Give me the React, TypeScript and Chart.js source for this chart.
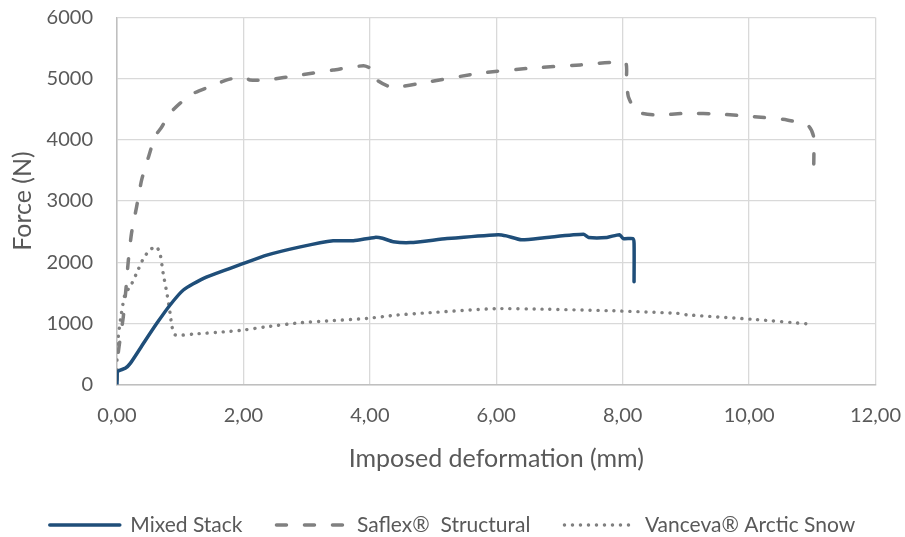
import React, { useEffect, useRef } from "react";
import { Chart, registerables } from "chart.js";

Chart.register(...registerables);

// Mixed Stack (solid blue)
const mixedX = [0, 0.005, 0.13, 0.21, 0.42, 0.63, 0.84, 1.05, 1.37, 1.79, 2.0, 2.37, 2.9, 3.42, 3.74, 4.08, 4.2, 4.37, 4.64, 5.22, 6.03, 6.16, 6.4, 6.8, 7.38, 7.46, 7.75, 7.95, 8.01, 8.16, 8.18, 8.18];
const mixedY = [0, 210, 265, 345, 675, 1000, 1300, 1545, 1735, 1900, 1980, 2115, 2250, 2350, 2350, 2405, 2390, 2335, 2320, 2385, 2450, 2430, 2365, 2405, 2455, 2405, 2405, 2450, 2385, 2385, 2310, 1680];

// Saflex Structural (dashed grey)
const saflexX = [0, 0.02, 0.10, 0.14, 0.18, 0.23, 0.31, 0.39, 0.50, 0.60, 0.71, 0.84, 1.0, 1.21, 1.47, 1.74, 2.0, 2.1, 2.37, 2.9, 3.42, 3.9, 4.06, 4.11, 4.35, 4.95, 5.74, 6.53, 7.33, 8.04, 8.06, 8.09, 8.22, 8.54, 9.01, 9.54, 10.07, 10.6, 10.94, 11.02, 11.02];
const saflexY = [74, 515, 1110, 1545, 2035, 2475, 2905, 3345, 3725, 4050, 4215, 4435, 4600, 4760, 4870, 4980, 5030, 4980, 4980, 5060, 5140, 5210, 5140, 4980, 4860, 4950, 5090, 5170, 5225, 5260, 4980, 4705, 4460, 4405, 4435, 4420, 4380, 4325, 4225, 4050, 3400];

// Vanceva Arctic Snow (dotted grey)
const vancevaX = [0, 0.02, 0.07, 0.13, 0.21, 0.31, 0.42, 0.52, 0.62, 0.68, 0.73, 0.79, 0.84, 0.87, 0.92, 1.21, 1.74, 2.0, 2.37, 2.9, 3.42, 3.95, 4.42, 4.95, 5.98, 6.8, 7.85, 8.85, 9.01, 10.07, 10.94];
const vancevaY = [400, 780, 1165, 1490, 1600, 1820, 2065, 2200, 2255, 2145, 1820, 1490, 1165, 945, 810, 825, 865, 890, 945, 1010, 1045, 1080, 1135, 1175, 1240, 1230, 1205, 1165, 1140, 1065, 990];

const seriesNames = ["Mixed Stack", "Saflex®  Structural", "Vanceva® Arctic Snow"];
const xTicks = [0, 2, 4, 6, 8, 10, 12];
const yTicks = [0, 1000, 2000, 3000, 4000, 5000, 6000];

const toPoints = (xs: number[], ys: number[]) => xs.map((x, i) => ({ x, y: ys[i] }));

const FONT = "Lato, 'Noto Sans', sans-serif";
const TXT = "#595959";

export default function App() {
  const ref = useRef<HTMLCanvasElement | null>(null);
  useEffect(() => {
    if (!ref.current) return;
    const chart = new Chart(ref.current, {
      type: "line",
      data: {
        datasets: [
          {
            label: seriesNames[0],
            data: toPoints(mixedX, mixedY),
            borderColor: "#1F4E79",
            backgroundColor: "#1F4E79",
            borderWidth: 3.5,
            pointRadius: 0,
            tension: 0.2,
            borderCapStyle: "round",
            borderJoinStyle: "round",
          },
          {
            label: seriesNames[1],
            data: toPoints(saflexX, saflexY),
            borderColor: "#808080",
            backgroundColor: "#808080",
            borderWidth: 3.5,
            borderDash: [10, 18],
            borderCapStyle: "round",
            pointRadius: 0,
            tension: 0.2,
          },
          {
            label: seriesNames[2],
            data: toPoints(vancevaX, vancevaY),
            borderColor: "#808080",
            backgroundColor: "#808080",
            borderWidth: 3.4,
            borderDash: [0.1, 7.9],
            borderCapStyle: "round",
            pointRadius: 0,
            tension: 0.2,
          },
        ],
      },
      options: {
        animation: false,
        responsive: false,
        maintainAspectRatio: false,
        layout: { padding: { top: 17.5, right: 0, left: 0, bottom: -8.5 } },
        plugins: {
          tooltip: { enabled: false },
          legend: {
            position: "bottom",
            labels: {
              usePointStyle: true,
              pointStyle: "line",
              pointStyleWidth: 70,
              padding: 34,
              color: TXT,
              font: { family: FONT, size: 21 },
              generateLabels: (c: any) => {
                const items = Chart.defaults.plugins.legend.labels.generateLabels(c);
                return items.map((it: any, i: number) => {
                  const ds: any = c.data.datasets[i];
                  return {
                    ...it,
                    pointStyle: "line",
                    strokeStyle: ds.borderColor,
                    fillStyle: ds.borderColor,
                    lineWidth: ds.borderWidth,
                    lineDash: ds.borderDash || [],
                    lineCap: ds.borderCapStyle || "butt",
                    fontColor: TXT,
                  };
                });
              },
            },
          },
        },
        scales: {
          x: {
            type: "linear",
            min: 0,
            max: 12,
            afterBuildTicks: (s: any) => {
              s.ticks = xTicks.map((v) => ({ value: v }));
            },
            afterFit: (s: any) => {
              s.height = 96;
            },
            ticks: {
              color: TXT,
              font: { family: FONT, size: 20 },
              padding: 4,
              callback: (v: any) => Number(v).toFixed(2).replace(".", ","),
            },
            grid: { color: "#D9D9D9", lineWidth: 1.3, drawTicks: true, tickLength: 15.5, tickColor: "rgba(0,0,0,0)" },
            border: { color: "#BFBFBF", width: 1.5 },
            title: {
              display: true,
              text: "Imposed deformation (mm)",
              color: TXT,
              font: { family: FONT, size: 25 },
              padding: { top: 0, bottom: 6.5 },
            },
          },
          y: {
            type: "linear",
            min: 0,
            max: 6000,
            afterBuildTicks: (s: any) => {
              s.ticks = yTicks.map((v) => ({ value: v }));
            },
            afterFit: (s: any) => {
              s.width = 117;
            },
            ticks: {
              color: TXT,
              font: { family: FONT, size: 20 },
              padding: 0,
              callback: (v: any) => String(v),
            },
            grid: { color: "#D9D9D9", lineWidth: 1.3, drawTicks: true, tickLength: 24, tickColor: "rgba(0,0,0,0)" },
            border: { color: "#BFBFBF", width: 1.5 },
            title: {
              display: true,
              text: "Force (N)",
              color: TXT,
              font: { family: FONT, size: 25 },
              padding: { top: 7.5, bottom: 0 },
            },
          },
        },
      },
    });
    return () => chart.destroy();
  }, []);
  return (
    <div style={{ position: "fixed", left: 0, top: 0, width: 905, height: 537, background: "#fff" }}>
      <canvas ref={ref} width={905} height={537} style={{ display: "block" }} />
    </div>
  );
}
